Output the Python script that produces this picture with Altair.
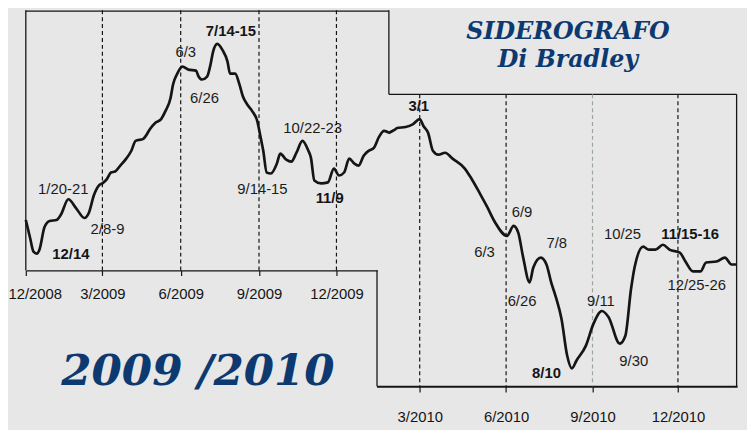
import altair as alt
import pandas as pd

# ---------------- data ----------------
# Left panel (first chart, Dec 2008 - Jan 2010)
left_dates = ["2008-12-01", "2008-12-06", "2008-12-10", "2008-12-14", "2008-12-17", "2008-12-23", "2008-12-29",
              "2009-01-06", "2009-01-11", "2009-01-20", "2009-01-29", "2009-02-08", "2009-02-13", "2009-02-19", "2009-02-25",
              "2009-03-01", "2009-03-06", "2009-03-11", "2009-03-16", "2009-03-22", "2009-03-29", "2009-04-04", "2009-04-09",
              "2009-04-18", "2009-04-21", "2009-04-26", "2009-05-02", "2009-05-09", "2009-05-14", "2009-05-20", "2009-05-23",
              "2009-05-28", "2009-06-03", "2009-06-10", "2009-06-19", "2009-06-22", "2009-06-26", "2009-07-02", "2009-07-06",
              "2009-07-09", "2009-07-14", "2009-07-20", "2009-07-26", "2009-07-29", "2009-08-04", "2009-08-09", "2009-08-13",
              "2009-08-18", "2009-08-24", "2009-08-30", "2009-09-03", "2009-09-06", "2009-09-10", "2009-09-15", "2009-09-22",
              "2009-09-26", "2009-10-03", "2009-10-09", "2009-10-15", "2009-10-22", "2009-10-29", "2009-11-01", "2009-11-05",
              "2009-11-13", "2009-11-21", "2009-11-28", "2009-12-04", "2009-12-10", "2009-12-16", "2009-12-22", "2009-12-27",
              "2010-01-02", "2010-01-08", "2010-01-14", "2010-01-20", "2010-01-26", "2010-02-01"]
left_values = [80, 62, 48, 46, 50, 73, 79,
               80, 85, 101, 92, 82, 87, 105, 115,
               117, 121, 128, 129, 135, 142, 150, 160,
               162, 165, 172, 178, 182, 190, 203, 217,
               228, 235, 232, 231, 225, 222, 225, 237,
               250, 258, 252, 240, 228, 228, 217, 205,
               197, 190, 180, 163, 150, 128, 127, 137,
               147, 141, 139, 148, 160, 150, 143, 120,
               117, 118, 132, 125, 128, 142, 137, 135,
               145, 150, 153, 164, 170, 168]

# Right panel (second chart, Jan 2010 - Feb 2011)
right_dates = ["2010-01-27", "2010-02-02", "2010-02-05", "2010-02-14", "2010-02-22", "2010-03-01", "2010-03-05", "2010-03-10",
               "2010-03-15", "2010-03-21", "2010-03-28", "2010-04-05", "2010-04-18", "2010-04-25", "2010-05-04", "2010-05-12",
               "2010-05-20", "2010-06-02", "2010-06-09", "2010-06-14", "2010-06-19", "2010-06-26", "2010-06-30", "2010-07-08",
               "2010-07-14", "2010-07-19", "2010-07-24", "2010-07-30", "2010-08-05", "2010-08-10", "2010-08-15", "2010-08-25",
               "2010-09-02", "2010-09-11", "2010-09-18", "2010-09-30", "2010-10-06", "2010-10-12", "2010-10-16", "2010-10-25",
               "2010-10-31", "2010-11-07", "2010-11-15", "2010-11-22", "2010-12-03", "2010-12-09", "2010-12-17", "2010-12-25",
               "2010-12-31", "2011-01-11", "2011-01-20", "2011-01-27", "2011-02-01"]
right_values = [168, 171, 173, 174, 177, 182, 175, 168,
                150, 146, 148, 142, 132, 122, 107, 93,
                78, 64, 74, 67, 43, 17, 32, 42,
                35, 17, 2, -20, -57, -70, -62, -47,
                -25, -12, -18, -45, -37, 10, 33, 53,
                50, 50, 55, 50, 47, 38, 28, 28,
                37, 38, 42, 35, 35]

# Annotations
left_reg_text = ["1/20-21", "2/8-9", "6/3", "6/26", "10/22-23", "9/14-15"]
left_reg_dates = ["2009-01-14", "2009-03-07", "2009-06-07", "2009-06-29", "2009-11-03", "2009-09-05"]
left_reg_values = [111, 71, 250, 203, 173, 111]
left_bold_text = ["12/14", "7/14-15", "11/9"]
left_bold_dates = ["2009-01-23", "2009-07-30", "2009-11-23"]
left_bold_values = [46, 271, 102]

right_reg_text = ["6/9", "6/3", "7/8", "10/25", "12/25-26", "6/26", "9/11", "9/30"]
right_reg_dates = ["2010-06-18", "2010-05-09", "2010-07-25", "2010-10-03", "2010-12-21", "2010-06-18", "2010-09-10", "2010-10-15"]
right_reg_values = [88, 48, 57, 66, 14, -2, -2, -63]
right_bold_text = ["3/1", "11/15-16", "8/10"]
right_bold_dates = ["2010-02-28", "2010-12-14", "2010-07-14"]
right_bold_values = [195, 66, -75]

left_grid_dates = ["2009-03-01", "2009-06-01", "2009-09-01", "2009-12-01"]
right_grid_dark = ["2010-03-01", "2010-06-01", "2010-12-01"]
right_grid_light = ["2010-09-01"]

TITLE_1 = "SIDEROGRAFO"
TITLE_2 = "Di Bradley"
YEARS = "2009 /2010"


def dt(y, m, d):
    return alt.DateTime(year=y, month=m, date=d, utc=True)


INK = "#151515"
BLUE = "#0c3a70"
Y_SCALE = alt.Scale(domain=[-88, 292], nice=False, zero=False)
L_SCALE = alt.Scale(type="utc", domain=[dt(2008, 12, 1), dt(2010, 1, 18)], range=[18, 373.3], nice=False)
R_SCALE = alt.Scale(type="utc", domain=[dt(2010, 1, 14), dt(2011, 2, 2)], range=[372.5, 737], nice=False)

axis_common = dict(format="%-m/%Y", orient="bottom", title=None, grid=False,
                   domainColor=INK, tickColor=INK, tickWidth=1.2,
                   labelOverlap=False, labelBound=False,
                   labelFont="Liberation Sans", labelFontSize=15, labelColor=INK)
L_AXIS = alt.Axis(values=[dt(2008, 12, 1), dt(2009, 3, 1), dt(2009, 6, 1), dt(2009, 9, 1), dt(2009, 12, 1)],
                  offset=-117, domainWidth=1.3, tickSize=5, labelPadding=11,
                  labelFlush=True, labelFlushOffset=18, **axis_common)
R_AXIS = alt.Axis(values=[dt(2010, 3, 1), dt(2010, 6, 1), dt(2010, 9, 1), dt(2010, 12, 1)],
                  offset=0, domainWidth=2.0, tickSize=6, labelPadding=18, labelFlush=False, **axis_common)

yenc = alt.Y("value:Q", scale=Y_SCALE, axis=None)


def group(dates, values, reg_t, reg_d, reg_v, bold_t, bold_d, bold_v, grids, scale, axis):
    xenc = alt.X("date:T", scale=scale, axis=axis)
    layers = []
    for gdates, gcol in grids:
        layers.append(
            alt.Chart(pd.DataFrame({"date": gdates}))
            .mark_rule(color=gcol["color"], strokeWidth=1.2, strokeDash=[4, 3])
            .encode(x=xenc, y=alt.value(gcol["top"]), y2=alt.value(gcol["bottom"]))
        )
    layers.append(
        alt.Chart(pd.DataFrame({"date": dates, "value": values}))
        .mark_line(color=INK, strokeWidth=2.7, interpolate="monotone")
        .encode(x=xenc, y=yenc)
    )
    layers.append(
        alt.Chart(pd.DataFrame({"date": reg_d, "value": reg_v, "t": reg_t}))
        .mark_text(font="Liberation Sans", fontSize=15, color="#1c1c1c", align="center", baseline="middle")
        .encode(x=xenc, y=yenc, text="t:N")
    )
    layers.append(
        alt.Chart(pd.DataFrame({"date": bold_d, "value": bold_v, "t": bold_t}))
        .mark_text(font="Liberation Sans", fontSize=15, fontWeight="bold", color=INK, align="center", baseline="middle")
        .encode(x=xenc, y=yenc, text="t:N")
    )
    return alt.layer(*layers)


left = group(left_dates, left_values, left_reg_text, left_reg_dates, left_reg_values,
             left_bold_text, left_bold_dates, left_bold_values,
             [(left_grid_dates, {"color": INK, "top": 0, "bottom": 263})], L_SCALE, L_AXIS)
right = group(right_dates, right_values, right_reg_text, right_reg_dates, right_reg_values,
              right_bold_text, right_bold_dates, right_bold_values,
              [(right_grid_dark, {"color": INK, "top": 85, "bottom": 380}),
               (right_grid_light, {"color": "#9aa69a", "top": 85, "bottom": 380})], R_SCALE, R_AXIS)

one = pd.DataFrame({"k": [0]})


def vrule(x, y1, y2, w=1.3):
    return alt.Chart(one).mark_rule(color=INK, strokeWidth=w).encode(
        x=alt.value(x), y=alt.value(y1), y2=alt.value(y2))


def hrule(y, x1, x2, w=1.3):
    return alt.Chart(one).mark_rule(color=INK, strokeWidth=w).encode(
        y=alt.value(y), x=alt.value(x1), x2=alt.value(x2))


frame = [
    vrule(18, 0, 263),
    hrule(0.8, 18, 385),
    vrule(385, 0, 85),
    hrule(85, 385, 736.5),
    vrule(736.5, 85, 380),
    vrule(373, 263, 380),
]


def title(txt, x, y, size):
    return alt.Chart(one).mark_text(text=txt, font="DejaVu Serif", fontStyle="italic", fontWeight="bold",
                                    fontSize=size, color=BLUE, align="center", baseline="alphabetic").encode(
        x=alt.value(x), y=alt.value(y))


titles = [title(TITLE_1, 566, 29, 24), title(TITLE_2, 566, 57, 24), title(YEARS, 192, 379, 44)]

chart = (
    alt.layer(*frame, left, right, *titles)
    .resolve_scale(x="independent")
    .resolve_axis(x="independent")
    .properties(width=747, height=380, autosize=alt.AutoSizeParams(type="none"),
                padding={"left": 0, "top": 0, "right": 0, "bottom": 42}, background="#e7e7e7")
    .configure_view(strokeWidth=0)
)

chart.save("out.html", embed_options={"renderer": "svg", "actions": False})
